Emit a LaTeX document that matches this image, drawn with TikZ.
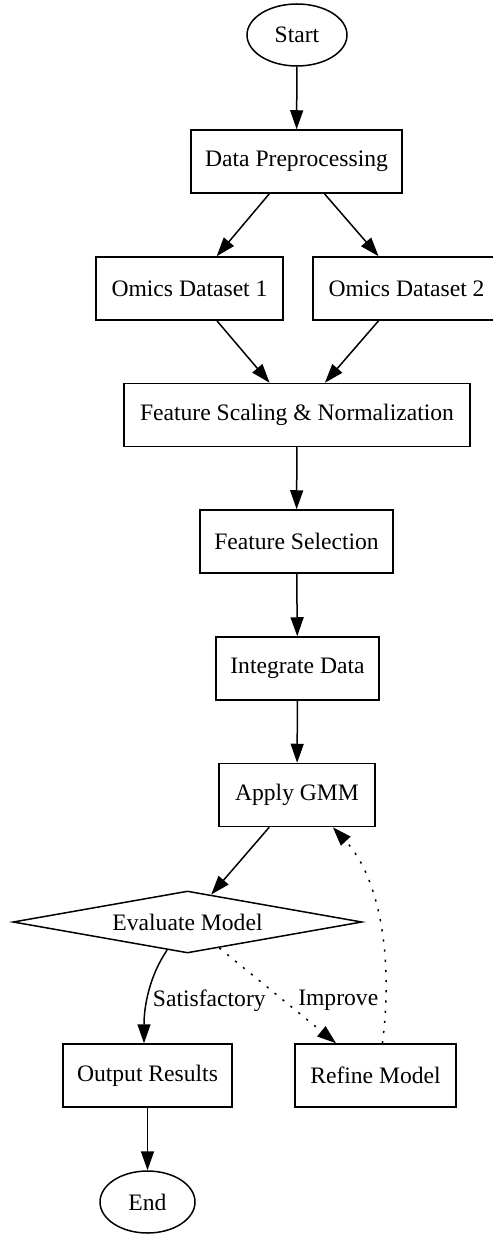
\documentclass[tikz,border=0pt]{standalone}
\usepackage{fontspec}
\setmainfont{Liberation Serif}
\usetikzlibrary{arrows.meta,shapes.geometric,calc}

\begin{document}
\begin{tikzpicture}[x=0.5pt,y=-0.5pt,line width=0.75pt,
  font=\fontsize{11.8}{14}\selectfont,
  >={Triangle[length=9.5pt,width=6.5pt]},
  box/.style={draw,rectangle,minimum height=31.5pt,inner sep=0pt},
  term/.style={draw,ellipse,minimum height=31pt,inner sep=0pt},
  test/.style={draw,diamond,aspect=5.6,inner sep=0pt,minimum width=174.5pt,minimum height=31pt},
  loop/.style={dash pattern=on 1.1pt off 4pt}]
\useasboundingbox (0,0) rectangle (492,1234);
\node[term,minimum width=50pt] (start) at (297,35) {Start};
\node[box,minimum width=105.5pt] (prep) at (296.5,161.5) {Data Preprocessing};
\node[box,minimum width=93.5pt] (om1) at (189.5,288.5) {Omics Dataset 1};
\node[box,minimum width=93.5pt] (om2) at (406.5,288.5) {Omics Dataset 2};
\node[box,minimum width=173pt] (scale) at (297,415) {Feature Scaling \& Normalization};
\node[box,minimum width=96.5pt] (sel) at (296.5,541.5) {Feature Selection};
\node[box,minimum width=81.5pt] (integ) at (297.5,668.5) {Integrate Data};
\node[box,minimum width=78pt] (gmm) at (297,795) {Apply GMM};
\node[test] (eval) at (187.5,922) {Evaluate Model};
\node[box,minimum width=84.5pt] (out) at (147.5,1075.5) {Output Results};
\node[box,minimum width=80.5pt] (refine) at (375.5,1075.5) {Refine Model};
\node[term,minimum width=47.5pt] (end) at (147.5,1202) {End};
\path[->]
(start) edge (prep) (prep) edge (om1) (prep) edge (om2)
(om1) edge (scale) (om2) edge (scale)
(scale) edge (sel) (sel) edge (integ) (integ) edge (gmm)
(gmm) edge (eval) (out) edge (end)
;
\draw[->] (eval.234) .. controls (150,975) and (144,1005) .. ($(out.north)+(-3.5,0)$)
  node[pos=0.6,right,inner sep=2.5pt] {Satisfactory};
\path[->,loop]
(eval) edge node[pos=0.55,right,inner sep=7pt] {Improve} (refine)
;
\draw[->,loop] (refine.78) .. controls (393,965) and (382,880) .. (gmm.-42);
\end{tikzpicture}
\end{document}
